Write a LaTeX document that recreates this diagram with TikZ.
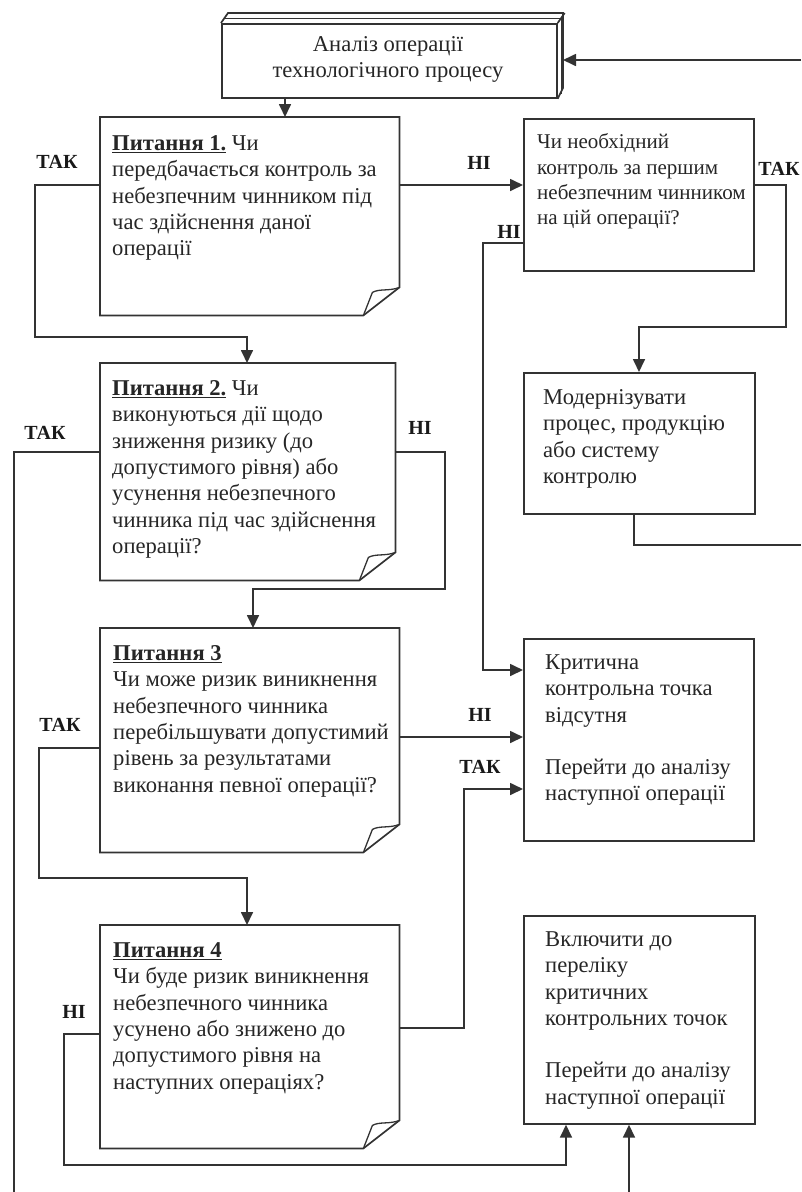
\documentclass[tikz,border=0pt]{standalone}
\usepackage{fontspec}
\setmainfont{Liberation Serif}
\usetikzlibrary{arrows.meta,calc}
\begin{document}
\begin{tikzpicture}[x=1pt,y=-1pt,
  ln/.style={line width=1.7pt, draw=black!80, line join=miter},
  arr/.style={ln, -{Triangle[length=13pt,width=12pt]}},
  frame/.style={rectangle, inner sep=0pt, anchor=north west, ln},
  qframe/.style={rectangle, inner sep=0pt, anchor=north west, draw=none},
  txt/.style={anchor=north west, inner sep=0pt, align=left, font=\fontsize{22.6}{26.3}\selectfont, text=black!85},
  lbl/.style={font=\fontsize{20}{22}\selectfont\bfseries, inner sep=0pt, text=black!90},
]
\useasboundingbox (0,0) rectangle (801,1192);

% ---- top 3D box
\node[frame, minimum width=335pt, minimum height=74pt] (top) at (221,23) {};
\draw[ln] (top.north west) -- ++(7,-10) -- ++(335,0) -- ++(0,75) -- (top.south east);
\draw[ln] (top.north east) -- ++(7,-10);
\draw[ln, line width=0.9pt] ($(top.north west)+(4,-5)$) -- ($(top.north east)+(4,-5)$) -- ($(top.south east)+(4,-5)$);
\node[anchor=north, inner sep=0pt, align=center, font=\fontsize{22.6}{26.3}\selectfont, text=black!85] (toptxt) at (388,33) {\strut Аналіз операції\\технологічного процесу};
\coordinate (topin) at (563,60);
\coordinate (rin) at (801,60);

% ---- question boxes (folded corner)
\node[qframe, minimum width=299pt, minimum height=198pt] (q1) at (100,117) {};
\node[qframe, minimum width=295pt, minimum height=217pt] (q2) at (100,363) {};
\node[qframe, minimum width=299pt, minimum height=224pt] (q3) at (100,628) {};
\node[qframe, minimum width=299pt, minimum height=223pt] (q4) at (100,925) {};
\foreach \q in {q1,q2,q3,q4}{
  \draw[ln] (\q.north west) -- (\q.north east) -- ($(\q.south east)+(0,-28)$)
     -- ($(\q.south east)+(-36,0)$) -- (\q.south west) -- cycle;
  \draw[ln, line width=1.3pt] ($(\q.south east)+(-36,0)$) -- ($(\q.south east)+(-27,-23)$)
     .. controls ($(\q.south east)+(-20,-27)$) and ($(\q.south east)+(-10,-24)$) .. ($(\q.south east)+(0,-28)$);
}

\node[txt] (q1t) at (112,132) {\strut\underline{\textbf{Питання 1.}} Чи\\передбачається контроль за\\небезпечним чинником під\\час здійснення даної\\операції};
\node[txt] (q2t) at (112,377) {\strut\underline{\textbf{Питання 2.}} Чи\\виконуються дії щодо\\зниження ризику (до\\допустимого рівня) або\\усунення небезпечного\\чинника під час здійснення\\операції?};
\node[txt] (q3t) at (113,642) {\strut\underline{\textbf{Питання 3}}\\Чи може ризик виникнення\\небезпечного чинника\\перебільшувати допустимий\\рівень за результатами\\виконання певної операції?};
\node[txt] (q4t) at (113,939) {\strut\underline{\textbf{Питання 4}}\\Чи буде ризик виникнення\\небезпечного чинника\\усунено або знижено до\\допустимого рівня на\\наступних операціях?};

% ---- right boxes
\node[frame, minimum width=230pt, minimum height=152pt] (r1) at (523,118) {};
\node[frame, minimum width=231pt, minimum height=141pt] (mod) at (523,372) {};
\node[frame, minimum width=230pt, minimum height=202pt] (crit) at (523,638) {};
\node[frame, minimum width=231pt, minimum height=208pt] (crit2) at (523,915) {};

\node[txt, font=\fontsize{21}{25.3}\selectfont] (r1t) at (537,131) {\strut Чи необхідний\\контроль за першим\\небезпечним чинником\\на цій операції?};
\node[txt] (modt) at (543,386) {\strut Модернізувати\\процес, продукцію\\або систему\\контролю};
\node[txt] (critt) at (545,651) {\strut Критична\\контрольна точка\\відсутня\\[26pt]Перейти до аналізу\\наступної операції};
\node[txt] (crit2t) at (545,928) {\strut Включити до\\переліку\\критичних\\контрольних точок\\[26pt]Перейти до аналізу\\наступної операції};

% ---- labels
\node[lbl] (l1) at (57,162) {ТАК};
\node[lbl] (l2) at (479,163) {НІ};
\node[lbl] (l3) at (779,169) {ТАК};
\node[lbl] (l4) at (509,232) {НІ};
\node[lbl] (l5) at (45,433) {ТАК};
\node[lbl] (l6) at (420,428) {НІ};
\node[lbl] (l7) at (60,725) {ТАК};
\node[lbl] (l8) at (480,715) {НІ};
\node[lbl] (l9) at (480,767) {ТАК};
\node[lbl] (l10) at (74,1012) {НІ};

% ---- connectors
\draw[arr] (rin) -- (topin);
\draw[arr] (top.south -| 285,0) -- (q1.north -| 285,0);
\draw[arr] (q1.west |- 0,185) -- (35,185) -- (35,337) -- (247,337) -- (q2.north -| 247,0);
\draw[arr] (q1.east |- 0,185) -- (r1.west |- 0,185);
\draw[arr] (r1.east |- 0,185) -- (786,185) -- (786,327) -- (639,327) -- (mod.north -| 639,0);
\draw[arr] (r1.west |- 0,243) -- (483,243) -- (483,670) -- (crit.west |- 0,670);
\draw[ln] (mod.south -| 634,0) -- (634,545) -- (801,545);
\draw[ln] (q2.west |- 0,452) -- (14,452) -- (14,1192);
\draw[arr] (q2.east |- 0,452) -- (445,452) -- (445,589) -- (253,589) -- (q3.north -| 253,0);
\draw[arr] (q3.west |- 0,748) -- (39,748) -- (39,878) -- (247,878) -- (q4.north -| 247,0);
\draw[arr] (q3.east |- 0,737) -- (crit.west |- 0,737);
\draw[arr] (q4.east |- 0,1028) -- (464,1028) -- (464,789) -- (crit.west |- 0,789);
\draw[arr] (q4.west |- 0,1034) -- (64,1034) -- (64,1165) -- (566,1165) -- (crit2.south -| 566,0);
\draw[arr] (629,1192) -- (crit2.south -| 629,0);
\end{tikzpicture}
\end{document}
